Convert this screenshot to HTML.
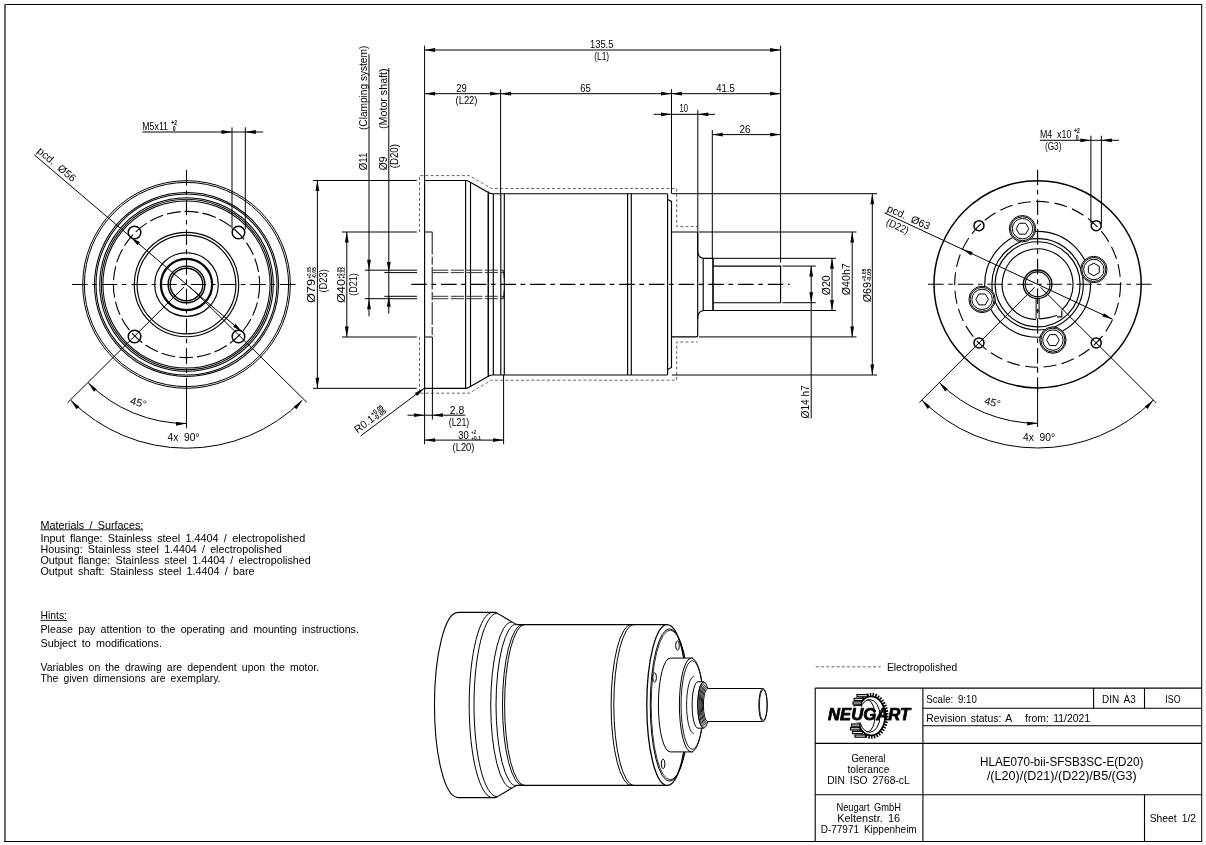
<!DOCTYPE html>
<html><head><meta charset="utf-8"><title>Drawing</title><style>html,body{margin:0;padding:0;background:#fff}svg{display:block;filter:grayscale(1)}</style></head><body>
<svg width="1206" height="845" viewBox="0 0 1206 845" font-family="'Liberation Sans', sans-serif" fill="#000">
<rect width="1206" height="845" fill="#fff"/>
<line x1="4.00" y1="4.50" x2="1202.20" y2="4.50" stroke="#000" stroke-width="1.0"/>
<line x1="5.00" y1="4.00" x2="5.00" y2="842.00" stroke="#6a6a6a" stroke-width="2.0"/>
<line x1="1201.65" y1="4.00" x2="1201.65" y2="842.00" stroke="#222" stroke-width="1.15"/>
<line x1="4.00" y1="841.50" x2="1202.20" y2="841.50" stroke="#000" stroke-width="1.0"/>
<circle cx="186.50" cy="284.50" r="103.80" fill="none" stroke="#000" stroke-width="1.0"/>
<circle cx="186.50" cy="284.50" r="102.10" fill="none" stroke="#000" stroke-width="1.0"/>
<circle cx="186.50" cy="284.50" r="92.00" fill="none" stroke="#000" stroke-width="1.05"/>
<circle cx="186.50" cy="284.50" r="90.50" fill="none" stroke="#000" stroke-width="1.05"/>
<circle cx="186.50" cy="284.50" r="86.80" fill="none" stroke="#000" stroke-width="1.05"/>
<circle cx="186.50" cy="284.50" r="85.20" fill="none" stroke="#000" stroke-width="1.05"/>
<circle cx="186.50" cy="284.50" r="83.60" fill="none" stroke="#000" stroke-width="1.05"/>
<circle cx="186.50" cy="284.50" r="73.10" fill="none" stroke="#000" stroke-width="1.1" stroke-dasharray="14 4"/>
<circle cx="186.50" cy="284.50" r="52.20" fill="none" stroke="#000" stroke-width="1.15"/>
<circle cx="186.50" cy="284.50" r="49.40" fill="none" stroke="#000" stroke-width="1.15"/>
<circle cx="186.50" cy="284.50" r="31.80" fill="none" stroke="#000" stroke-width="1.15"/>
<circle cx="186.50" cy="284.50" r="25.60" fill="none" stroke="#000" stroke-width="2.2"/>
<circle cx="186.50" cy="284.50" r="18.40" fill="none" stroke="#000" stroke-width="1.4"/>
<circle cx="186.50" cy="284.50" r="16.30" fill="none" stroke="#000" stroke-width="1.4"/>
<line x1="72.00" y1="284.50" x2="296.30" y2="284.50" stroke="#000" stroke-width="1.1" stroke-dasharray="15.6 4.6 4.6 4.9"/>
<line x1="186.50" y1="170.00" x2="186.50" y2="390.00" stroke="#000" stroke-width="1.1" stroke-dasharray="15.6 4.6 4.6 4.9"/>
<line x1="186.50" y1="383.00" x2="186.50" y2="428.30" stroke="#000" stroke-width="1.0"/>
<circle cx="134.53" cy="232.53" r="6.30" fill="none" stroke="#000" stroke-width="1.5"/>
<circle cx="238.47" cy="232.53" r="6.30" fill="none" stroke="#000" stroke-width="1.5"/>
<circle cx="134.53" cy="336.47" r="6.30" fill="none" stroke="#000" stroke-width="1.5"/>
<circle cx="238.47" cy="336.47" r="6.30" fill="none" stroke="#000" stroke-width="1.5"/>
<line x1="34.20" y1="154.74" x2="242.30" y2="332.04" stroke="#000" stroke-width="1.0"/>
<polygon points="130.70,236.96 139.93,242.33 137.47,245.22" fill="#000"/>
<polygon points="242.30,332.04 233.07,326.67 235.53,323.78" fill="#000"/>
<g transform="translate(36.6,152.0) rotate(40.4)"><text font-size="10.5" textLength="47" lengthAdjust="spacingAndGlyphs" xml:space="preserve">pcd.  Ø56</text></g>
<line x1="184.00" y1="287.00" x2="67.50" y2="402.80" stroke="#000" stroke-width="1.0"/>
<line x1="189.70" y1="286.70" x2="306.80" y2="402.30" stroke="#000" stroke-width="1.0"/>
<path d="M302.25,400.25 A163.7,163.7 0 0 1 70.75,400.25" fill="none" stroke="#000" stroke-width="1.0"/>
<path d="M186.50,423.50 A139,139 0 0 1 88.21,382.79" fill="none" stroke="#000" stroke-width="1.0"/>
<polygon points="70.75,400.25 79.30,406.64 76.52,409.23" fill="#000"/>
<polygon points="302.25,400.25 296.48,409.23 293.70,406.64" fill="#000"/>
<polygon points="88.21,382.79 96.76,389.17 93.98,391.76" fill="#000"/>
<polygon points="186.50,423.50 176.07,425.77 175.94,421.97" fill="#000"/>
<g transform="translate(137.5,406.0) rotate(15)"><text font-size="10.5" text-anchor="middle" textLength="16.5" lengthAdjust="spacingAndGlyphs">45°</text></g>
<text x="167.50" y="441.30" font-size="10.5" text-anchor="start" textLength="32.0" lengthAdjust="spacingAndGlyphs" xml:space="preserve">4x  90°</text>
<text x="142.30" y="130.40" font-size="11" text-anchor="start" textLength="25.7" lengthAdjust="spacingAndGlyphs" xml:space="preserve">M5x11</text>
<text x="171.30" y="125.00" font-size="6.5" text-anchor="start" font-weight="bold" textLength="5.6" lengthAdjust="spacingAndGlyphs" xml:space="preserve">+2</text>
<text x="172.80" y="131.20" font-size="6.5" text-anchor="start" font-weight="bold" textLength="2.9" lengthAdjust="spacingAndGlyphs" xml:space="preserve">0</text>
<line x1="142.50" y1="132.00" x2="263.20" y2="132.00" stroke="#000" stroke-width="1.0"/>
<line x1="232.00" y1="127.30" x2="232.00" y2="229.00" stroke="#000" stroke-width="1.0"/>
<line x1="245.30" y1="127.30" x2="245.30" y2="229.50" stroke="#000" stroke-width="1.0"/>
<polygon points="232.00,132.00 221.50,133.90 221.50,130.10" fill="#000"/>
<polygon points="245.30,132.00 255.80,130.10 255.80,133.90" fill="#000"/>
<path d="M424.6,180.5 L465.8,180.5 Q467.3,180.5 468.6,181.3 L488.8,192.79999999999998 Q490.3,193.7 492,193.7 L667.6,193.7" fill="none" stroke="#000" stroke-width="1.15"/>
<path d="M424.6,388.3 L465.8,388.3 Q467.3,388.3 468.6,387.5 L488.8,375.9 Q490.3,375.0 492,375.0 L667.6,375.0" fill="none" stroke="#000" stroke-width="1.15"/>
<line x1="424.60" y1="180.50" x2="424.60" y2="388.30" stroke="#000" stroke-width="1.15"/>
<line x1="465.60" y1="180.50" x2="465.60" y2="388.30" stroke="#000" stroke-width="1.15"/>
<line x1="470.50" y1="182.30" x2="470.50" y2="386.50" stroke="#000" stroke-width="1.15"/>
<line x1="488.30" y1="193.70" x2="488.30" y2="375.00" stroke="#000" stroke-width="1.15"/>
<line x1="493.30" y1="193.70" x2="493.30" y2="375.00" stroke="#000" stroke-width="1.15"/>
<line x1="500.80" y1="193.70" x2="500.80" y2="375.00" stroke="#000" stroke-width="1.15"/>
<line x1="504.30" y1="193.70" x2="504.30" y2="375.00" stroke="#000" stroke-width="1.15"/>
<line x1="488.30" y1="191.60" x2="488.30" y2="377.10" stroke="#000" stroke-width="1.15"/>
<line x1="627.60" y1="193.70" x2="627.60" y2="375.00" stroke="#000" stroke-width="1.15"/>
<line x1="631.30" y1="193.70" x2="631.30" y2="375.00" stroke="#000" stroke-width="1.15"/>
<line x1="667.60" y1="193.70" x2="667.60" y2="375.00" stroke="#000" stroke-width="1.15"/>
<path d="M667.6,199.4 L671.5,201.4 L671.5,367.4 L667.6,369.4" fill="none" stroke="#000" stroke-width="1.15"/>
<path d="M671.5,232.0 L696.4,232.0 Q697.7,232.0 697.7,233.3 L697.7,250.8 Q698,258.3 704.2,258.3 L713,258.3" fill="none" stroke="#000" stroke-width="1.15"/>
<path d="M671.5,336.9 L696.4,336.9 Q697.7,336.9 697.7,335.59999999999997 L697.7,318.0 Q698,310.5 704.2,310.5 L713,310.5" fill="none" stroke="#000" stroke-width="1.15"/>
<line x1="697.70" y1="250.00" x2="697.70" y2="319.00" stroke="#000" stroke-width="1.15"/>
<line x1="703.20" y1="258.30" x2="703.20" y2="310.50" stroke="#000" stroke-width="1.15"/>
<line x1="713.00" y1="258.30" x2="713.00" y2="310.50" stroke="#000" stroke-width="1.6"/>
<path d="M713,266.1 L780.6,266.1 L780.6,302.7 L713,302.7" fill="none" stroke="#000" stroke-width="1.15"/>
<line x1="411.30" y1="284.40" x2="789.50" y2="284.40" stroke="#000" stroke-width="1.1" stroke-dasharray="15.6 4.6 4.6 4.9"/>
<line x1="432.20" y1="232.00" x2="432.20" y2="337.00" stroke="#222" stroke-width="1.1" stroke-dasharray="22.5 2.3 8 2.3"/>
<line x1="424.60" y1="232.00" x2="432.40" y2="232.00" stroke="#000" stroke-width="1.0"/>
<line x1="424.60" y1="337.00" x2="432.40" y2="337.00" stroke="#000" stroke-width="1.0"/>
<line x1="432.40" y1="270.20" x2="503.60" y2="270.20" stroke="#333" stroke-width="1.0" stroke-dasharray="16 2.5 13 2.5"/>
<line x1="432.40" y1="272.60" x2="503.60" y2="272.60" stroke="#333" stroke-width="1.0" stroke-dasharray="16 2.5 13 2.5"/>
<line x1="432.40" y1="296.30" x2="503.60" y2="296.30" stroke="#333" stroke-width="1.0" stroke-dasharray="16 2.5 13 2.5"/>
<line x1="432.40" y1="298.70" x2="503.60" y2="298.70" stroke="#333" stroke-width="1.0" stroke-dasharray="16 2.5 13 2.5"/>
<path d="M502.6,270.2 Q504.4,272 504.2,278 M504.2,291 Q504.4,297 502.6,298.7" fill="none" stroke="#000" stroke-width="1.0"/>
<path d="M419.5,232 L419.5,175.6 L469.2,175.6 L491.5,188.5 L676.7,188.5 L676.7,226.6 L697.7,226.6" fill="none" stroke="#555" stroke-width="0.9" stroke-dasharray="3 2.2"/>
<path d="M419.5,337 L419.5,393.2 L469.2,393.2 L491.5,380.2 L676.7,380.2 L676.7,342.0 L697.7,342.0" fill="none" stroke="#555" stroke-width="0.9" stroke-dasharray="3 2.2"/>
<line x1="424.60" y1="45.60" x2="424.60" y2="180.50" stroke="#000" stroke-width="1.0"/>
<line x1="780.60" y1="45.60" x2="780.60" y2="262.60" stroke="#000" stroke-width="1.0"/>
<line x1="424.60" y1="50.00" x2="780.60" y2="50.00" stroke="#000" stroke-width="1.0"/>
<polygon points="424.60,50.00 435.10,48.10 435.10,51.90" fill="#000"/>
<polygon points="780.60,50.00 770.10,51.90 770.10,48.10" fill="#000"/>
<text x="601.70" y="48.20" font-size="10.5" text-anchor="middle" textLength="23.5" lengthAdjust="spacingAndGlyphs" xml:space="preserve">135.5</text>
<text x="601.70" y="60.20" font-size="10.5" text-anchor="middle" textLength="15.0" lengthAdjust="spacingAndGlyphs" xml:space="preserve">(L1)</text>
<line x1="424.60" y1="93.70" x2="780.60" y2="93.70" stroke="#000" stroke-width="1.0"/>
<line x1="500.60" y1="89.40" x2="500.60" y2="193.70" stroke="#000" stroke-width="1.0"/>
<line x1="671.50" y1="89.20" x2="671.50" y2="193.70" stroke="#000" stroke-width="1.0"/>
<polygon points="424.60,93.70 435.10,91.80 435.10,95.60" fill="#000"/>
<polygon points="500.60,93.70 490.10,95.60 490.10,91.80" fill="#000"/>
<polygon points="500.60,93.70 511.10,91.80 511.10,95.60" fill="#000"/>
<polygon points="671.50,93.70 661.00,95.60 661.00,91.80" fill="#000"/>
<polygon points="671.50,93.70 682.00,91.80 682.00,95.60" fill="#000"/>
<polygon points="780.60,93.70 770.10,95.60 770.10,91.80" fill="#000"/>
<text x="461.50" y="91.80" font-size="10.5" text-anchor="middle" textLength="10.5" lengthAdjust="spacingAndGlyphs" xml:space="preserve">29</text>
<text x="466.50" y="104.00" font-size="10.5" text-anchor="middle" textLength="22.0" lengthAdjust="spacingAndGlyphs" xml:space="preserve">(L22)</text>
<text x="585.50" y="91.80" font-size="10.5" text-anchor="middle" textLength="10.5" lengthAdjust="spacingAndGlyphs" xml:space="preserve">65</text>
<text x="725.50" y="91.80" font-size="10.5" text-anchor="middle" textLength="18.5" lengthAdjust="spacingAndGlyphs" xml:space="preserve">41.5</text>
<line x1="653.60" y1="114.30" x2="715.00" y2="114.30" stroke="#000" stroke-width="1.0"/>
<line x1="697.80" y1="109.80" x2="697.80" y2="250.00" stroke="#000" stroke-width="1.0"/>
<polygon points="671.50,114.30 661.00,116.20 661.00,112.40" fill="#000"/>
<polygon points="697.80,114.30 708.30,112.40 708.30,116.20" fill="#000"/>
<text x="683.70" y="112.30" font-size="10.5" text-anchor="middle" textLength="8.5" lengthAdjust="spacingAndGlyphs" xml:space="preserve">10</text>
<line x1="712.30" y1="134.60" x2="780.60" y2="134.60" stroke="#000" stroke-width="1.0"/>
<line x1="712.30" y1="130.00" x2="712.30" y2="258.30" stroke="#000" stroke-width="1.0"/>
<polygon points="712.30,134.60 722.80,132.70 722.80,136.50" fill="#000"/>
<polygon points="780.60,134.60 770.10,136.50 770.10,132.70" fill="#000"/>
<text x="745.00" y="132.80" font-size="10.5" text-anchor="middle" textLength="11.0" lengthAdjust="spacingAndGlyphs" xml:space="preserve">26</text>
<line x1="313.00" y1="180.50" x2="416.80" y2="180.50" stroke="#000" stroke-width="1.0"/>
<line x1="313.00" y1="388.30" x2="416.80" y2="388.30" stroke="#000" stroke-width="1.0"/>
<line x1="317.40" y1="180.50" x2="317.40" y2="388.30" stroke="#000" stroke-width="1.0"/>
<polygon points="317.40,180.50 319.30,191.00 315.50,191.00" fill="#000"/>
<polygon points="317.40,388.30 315.50,377.80 319.30,377.80" fill="#000"/>
<text transform="translate(315.40,303.00) rotate(-90)" font-size="10.5" text-anchor="start" textLength="24.0" lengthAdjust="spacingAndGlyphs" xml:space="preserve">Ø79</text>
<text transform="translate(311.20,278.60) rotate(-90)" font-size="6.2" text-anchor="start" font-weight="bold" textLength="11.5" lengthAdjust="spacingAndGlyphs" xml:space="preserve">+0.05</text>
<text transform="translate(315.60,278.60) rotate(-90)" font-size="6.2" text-anchor="start" font-weight="bold" textLength="11.5" lengthAdjust="spacingAndGlyphs" xml:space="preserve">-0.05</text>
<text transform="translate(326.70,292.60) rotate(-90)" font-size="10.5" text-anchor="start" textLength="23.5" lengthAdjust="spacingAndGlyphs" xml:space="preserve">(D23)</text>
<line x1="342.00" y1="232.00" x2="416.80" y2="232.00" stroke="#000" stroke-width="1.0"/>
<line x1="342.00" y1="337.00" x2="416.80" y2="337.00" stroke="#000" stroke-width="1.0"/>
<line x1="346.80" y1="232.00" x2="346.80" y2="337.00" stroke="#000" stroke-width="1.0"/>
<polygon points="346.80,232.00 348.70,242.50 344.90,242.50" fill="#000"/>
<polygon points="346.80,337.00 344.90,326.50 348.70,326.50" fill="#000"/>
<text transform="translate(344.90,303.00) rotate(-90)" font-size="10.5" text-anchor="start" textLength="24.0" lengthAdjust="spacingAndGlyphs" xml:space="preserve">Ø40</text>
<text transform="translate(340.70,278.60) rotate(-90)" font-size="6.2" text-anchor="start" font-weight="bold" textLength="11.5" lengthAdjust="spacingAndGlyphs" xml:space="preserve">+0.05</text>
<text transform="translate(345.10,278.60) rotate(-90)" font-size="6.2" text-anchor="start" font-weight="bold" textLength="11.5" lengthAdjust="spacingAndGlyphs" xml:space="preserve">+0.02</text>
<text transform="translate(356.60,295.80) rotate(-90)" font-size="10.5" text-anchor="start" textLength="22.5" lengthAdjust="spacingAndGlyphs" xml:space="preserve">(D21)</text>
<line x1="369.00" y1="54.20" x2="369.00" y2="316.30" stroke="#000" stroke-width="1.0"/>
<line x1="364.80" y1="270.20" x2="417.00" y2="270.20" stroke="#000" stroke-width="1.0"/>
<line x1="364.80" y1="298.70" x2="417.00" y2="298.70" stroke="#000" stroke-width="1.0"/>
<polygon points="369.00,270.20 367.10,259.70 370.90,259.70" fill="#000"/>
<polygon points="369.00,298.70 370.90,309.20 367.10,309.20" fill="#000"/>
<text transform="translate(366.60,170.20) rotate(-90)" font-size="10.5" text-anchor="start" textLength="17.5" lengthAdjust="spacingAndGlyphs" xml:space="preserve">Ø11</text>
<text transform="translate(366.60,130.00) rotate(-90)" font-size="10.5" text-anchor="start" textLength="84.3" lengthAdjust="spacingAndGlyphs" xml:space="preserve">(Clamping system)</text>
<line x1="388.80" y1="68.00" x2="388.80" y2="313.60" stroke="#000" stroke-width="1.0"/>
<line x1="384.30" y1="272.60" x2="417.00" y2="272.60" stroke="#000" stroke-width="1.0"/>
<line x1="384.30" y1="296.30" x2="417.00" y2="296.30" stroke="#000" stroke-width="1.0"/>
<polygon points="388.80,272.60 386.90,262.10 390.70,262.10" fill="#000"/>
<polygon points="388.80,296.30 390.70,306.80 386.90,306.80" fill="#000"/>
<text transform="translate(386.60,170.20) rotate(-90)" font-size="10.5" text-anchor="start" textLength="13.8" lengthAdjust="spacingAndGlyphs" xml:space="preserve">Ø9</text>
<text transform="translate(386.60,129.00) rotate(-90)" font-size="10.5" text-anchor="start" textLength="60.6" lengthAdjust="spacingAndGlyphs" xml:space="preserve">(Motor shaft)</text>
<text transform="translate(398.40,168.30) rotate(-90)" font-size="10.5" text-anchor="start" textLength="24.3" lengthAdjust="spacingAndGlyphs" xml:space="preserve">(D20)</text>
<line x1="424.60" y1="388.30" x2="424.60" y2="444.20" stroke="#000" stroke-width="1.0"/>
<line x1="432.40" y1="337.00" x2="432.40" y2="419.50" stroke="#000" stroke-width="1.0"/>
<line x1="503.60" y1="375.00" x2="503.60" y2="444.20" stroke="#000" stroke-width="1.0"/>
<line x1="407.50" y1="415.20" x2="465.30" y2="415.20" stroke="#000" stroke-width="1.0"/>
<polygon points="424.60,415.20 414.10,417.10 414.10,413.30" fill="#000"/>
<polygon points="432.40,415.20 442.90,413.30 442.90,417.10" fill="#000"/>
<text x="457.00" y="413.60" font-size="10.5" text-anchor="middle" textLength="14.5" lengthAdjust="spacingAndGlyphs" xml:space="preserve">2.8</text>
<text x="459.00" y="425.50" font-size="10.5" text-anchor="middle" textLength="20.5" lengthAdjust="spacingAndGlyphs" xml:space="preserve">(L21)</text>
<line x1="424.60" y1="440.10" x2="503.60" y2="440.10" stroke="#000" stroke-width="1.0"/>
<polygon points="424.60,440.10 435.10,438.20 435.10,442.00" fill="#000"/>
<polygon points="503.60,440.10 493.10,442.00 493.10,438.20" fill="#000"/>
<text x="463.50" y="438.60" font-size="10.5" text-anchor="middle" textLength="10.5" lengthAdjust="spacingAndGlyphs" xml:space="preserve">30</text>
<text x="471.20" y="433.80" font-size="6.2" text-anchor="start" font-weight="bold" textLength="4.8" lengthAdjust="spacingAndGlyphs" xml:space="preserve">+2</text>
<text x="471.20" y="439.60" font-size="6.2" text-anchor="start" font-weight="bold" textLength="9.8" lengthAdjust="spacingAndGlyphs" xml:space="preserve">+0.1</text>
<text x="463.50" y="450.60" font-size="10.5" text-anchor="middle" textLength="22.0" lengthAdjust="spacingAndGlyphs" xml:space="preserve">(L20)</text>
<line x1="424.40" y1="388.20" x2="360.70" y2="435.90" stroke="#000" stroke-width="1.0"/>
<polygon points="424.40,388.20 417.13,396.01 414.85,392.97" fill="#000"/>
<g transform="translate(357.5,433.5) rotate(-36.8)"><text font-size="10.5" textLength="22" lengthAdjust="spacingAndGlyphs">R0.1</text><text x="22.3" y="-4.6" font-size="6.8" font-weight="bold" textLength="14" lengthAdjust="spacingAndGlyphs">+0.05</text><text x="22.3" y="0.6" font-size="6.8" font-weight="bold" textLength="14" lengthAdjust="spacingAndGlyphs">-0.05</text></g>
<line x1="671.80" y1="193.70" x2="877.00" y2="193.70" stroke="#000" stroke-width="1.0"/>
<line x1="671.80" y1="375.00" x2="877.00" y2="375.00" stroke="#000" stroke-width="1.0"/>
<line x1="872.30" y1="193.70" x2="872.30" y2="375.00" stroke="#000" stroke-width="1.0"/>
<polygon points="872.30,193.70 874.20,204.20 870.40,204.20" fill="#000"/>
<polygon points="872.30,375.00 870.40,364.50 874.20,364.50" fill="#000"/>
<text transform="translate(870.60,302.30) rotate(-90)" font-size="10.5" text-anchor="start" textLength="20.3" lengthAdjust="spacingAndGlyphs" xml:space="preserve">Ø69</text>
<text transform="translate(866.40,281.60) rotate(-90)" font-size="6.2" text-anchor="start" font-weight="bold" textLength="13.0" lengthAdjust="spacingAndGlyphs" xml:space="preserve">+0.05</text>
<text transform="translate(870.80,281.60) rotate(-90)" font-size="6.2" text-anchor="start" font-weight="bold" textLength="13.0" lengthAdjust="spacingAndGlyphs" xml:space="preserve">-0.05</text>
<line x1="699.00" y1="232.00" x2="856.50" y2="232.00" stroke="#000" stroke-width="1.0"/>
<line x1="699.00" y1="336.90" x2="856.50" y2="336.90" stroke="#000" stroke-width="1.0"/>
<line x1="852.20" y1="232.00" x2="852.20" y2="336.90" stroke="#000" stroke-width="1.0"/>
<polygon points="852.20,232.00 854.10,242.50 850.30,242.50" fill="#000"/>
<polygon points="852.20,336.90 850.30,326.40 854.10,326.40" fill="#000"/>
<text transform="translate(850.40,295.20) rotate(-90)" font-size="10.5" text-anchor="start" textLength="32.0" lengthAdjust="spacingAndGlyphs" xml:space="preserve">Ø40h7</text>
<line x1="713.00" y1="258.30" x2="836.00" y2="258.30" stroke="#000" stroke-width="1.0"/>
<line x1="713.00" y1="310.50" x2="836.00" y2="310.50" stroke="#000" stroke-width="1.0"/>
<line x1="832.00" y1="258.30" x2="832.00" y2="310.50" stroke="#000" stroke-width="1.0"/>
<polygon points="832.00,258.30 833.90,268.80 830.10,268.80" fill="#000"/>
<polygon points="832.00,310.50 830.10,300.00 833.90,300.00" fill="#000"/>
<text transform="translate(829.80,295.20) rotate(-90)" font-size="10.5" text-anchor="start" textLength="19.7" lengthAdjust="spacingAndGlyphs" xml:space="preserve">Ø20</text>
<line x1="782.40" y1="266.10" x2="815.80" y2="266.10" stroke="#000" stroke-width="1.0"/>
<line x1="782.40" y1="302.70" x2="815.80" y2="302.70" stroke="#000" stroke-width="1.0"/>
<line x1="811.20" y1="266.10" x2="811.20" y2="418.40" stroke="#000" stroke-width="1.0"/>
<polygon points="811.20,266.10 813.10,276.60 809.30,276.60" fill="#000"/>
<polygon points="811.20,302.70 809.30,292.20 813.10,292.20" fill="#000"/>
<text transform="translate(809.40,418.40) rotate(-90)" font-size="10.5" text-anchor="start" textLength="33.2" lengthAdjust="spacingAndGlyphs" xml:space="preserve">Ø14 h7</text>
<circle cx="1037.60" cy="284.30" r="103.60" fill="none" stroke="#000" stroke-width="1.5"/>
<circle cx="1037.60" cy="284.30" r="82.90" fill="none" stroke="#000" stroke-width="1.1" stroke-dasharray="13 5.5"/>
<circle cx="1037.60" cy="284.30" r="52.90" fill="none" stroke="#000" stroke-width="1.15"/>
<circle cx="1037.60" cy="284.30" r="45.70" fill="none" stroke="#000" stroke-width="1.15"/>
<circle cx="1037.60" cy="284.30" r="42.50" fill="none" stroke="#000" stroke-width="1.15"/>
<path d="M1036.00,319.66 A35.4,35.4 0 1 1 1061.74,310.19" fill="none" stroke="#000" stroke-width="1.15"/>
<path d="M1039.20,318.90 Q1049.60,318.30 1057.10,315.30" fill="none" stroke="#000" stroke-width="1.15"/>
<path d="M1057.10,316.80 L1061.80,316.80 L1061.80,310.80" fill="none" stroke="#000" stroke-width="1.15"/>
<line x1="1036.10" y1="297.80" x2="1036.10" y2="318.90" stroke="#000" stroke-width="1.0"/>
<line x1="1039.10" y1="297.80" x2="1039.10" y2="318.90" stroke="#000" stroke-width="1.0"/>
<line x1="1036.10" y1="310.80" x2="1039.10" y2="310.80" stroke="#000" stroke-width="1.0"/>
<circle cx="1037.60" cy="284.30" r="14.30" fill="none" stroke="#000" stroke-width="1.3"/>
<circle cx="1037.60" cy="284.30" r="12.40" fill="none" stroke="#000" stroke-width="1.1"/>
<line x1="928.00" y1="284.30" x2="1153.00" y2="284.30" stroke="#000" stroke-width="1.1" stroke-dasharray="15.6 4.6 4.6 4.9"/>
<line x1="1037.60" y1="169.70" x2="1037.60" y2="392.00" stroke="#000" stroke-width="1.1" stroke-dasharray="15.6 4.6 4.6 4.9"/>
<line x1="1037.60" y1="386.00" x2="1037.60" y2="427.00" stroke="#000" stroke-width="1.0"/>
<circle cx="1022.50" cy="228.70" r="13.20" fill="#fff" stroke="#000" stroke-width="1.0"/>
<circle cx="1022.50" cy="228.70" r="12.00" fill="none" stroke="#000" stroke-width="1.0"/>
<circle cx="1022.50" cy="228.70" r="10.20" fill="none" stroke="#000" stroke-width="1.0"/>
<polygon points="1028.80,228.70 1025.65,234.16 1019.35,234.16 1016.20,228.70 1019.35,223.24 1025.65,223.24" fill="none" stroke="#000" stroke-width="1.0"/>
<circle cx="1093.80" cy="269.50" r="13.20" fill="#fff" stroke="#000" stroke-width="1.0"/>
<circle cx="1093.80" cy="269.50" r="12.00" fill="none" stroke="#000" stroke-width="1.0"/>
<circle cx="1093.80" cy="269.50" r="10.20" fill="none" stroke="#000" stroke-width="1.0"/>
<polygon points="1099.26,272.65 1093.80,275.80 1088.34,272.65 1088.34,266.35 1093.80,263.20 1099.26,266.35" fill="none" stroke="#000" stroke-width="1.0"/>
<circle cx="982.10" cy="299.40" r="13.20" fill="#fff" stroke="#000" stroke-width="1.0"/>
<circle cx="982.10" cy="299.40" r="12.00" fill="none" stroke="#000" stroke-width="1.0"/>
<circle cx="982.10" cy="299.40" r="10.20" fill="none" stroke="#000" stroke-width="1.0"/>
<polygon points="988.40,299.40 985.25,304.86 978.95,304.86 975.80,299.40 978.95,293.94 985.25,293.94" fill="none" stroke="#000" stroke-width="1.0"/>
<circle cx="1052.90" cy="340.10" r="13.20" fill="#fff" stroke="#000" stroke-width="1.0"/>
<circle cx="1052.90" cy="340.10" r="12.00" fill="none" stroke="#000" stroke-width="1.0"/>
<circle cx="1052.90" cy="340.10" r="10.20" fill="none" stroke="#000" stroke-width="1.0"/>
<polygon points="1059.20,340.10 1056.05,345.56 1049.75,345.56 1046.60,340.10 1049.75,334.64 1056.05,334.64" fill="none" stroke="#000" stroke-width="1.0"/>
<circle cx="978.98" cy="225.68" r="5.00" fill="none" stroke="#000" stroke-width="1.5"/>
<circle cx="1096.22" cy="225.68" r="5.00" fill="none" stroke="#000" stroke-width="1.5"/>
<circle cx="978.98" cy="342.92" r="5.00" fill="none" stroke="#000" stroke-width="1.5"/>
<circle cx="1096.22" cy="342.92" r="5.00" fill="none" stroke="#000" stroke-width="1.5"/>
<line x1="1034.60" y1="287.30" x2="919.30" y2="402.60" stroke="#000" stroke-width="1.0"/>
<line x1="1040.60" y1="287.30" x2="1156.20" y2="402.90" stroke="#000" stroke-width="1.0"/>
<path d="M1153.35,400.05 A163.7,163.7 0 0 1 921.85,400.05" fill="none" stroke="#000" stroke-width="1.0"/>
<path d="M1037.60,423.30 A139,139 0 0 1 939.31,382.59" fill="none" stroke="#000" stroke-width="1.0"/>
<polygon points="921.85,400.05 930.40,406.44 927.62,409.03" fill="#000"/>
<polygon points="1153.35,400.05 1147.58,409.03 1144.80,406.44" fill="#000"/>
<polygon points="939.31,382.59 947.86,388.97 945.08,391.56" fill="#000"/>
<polygon points="1037.60,423.30 1027.17,425.57 1027.04,421.77" fill="#000"/>
<g transform="translate(991.6,405.8) rotate(15)"><text font-size="10.5" text-anchor="middle" textLength="16.5" lengthAdjust="spacingAndGlyphs">45°</text></g>
<text x="1023.00" y="441.30" font-size="10.5" text-anchor="start" textLength="32.0" lengthAdjust="spacingAndGlyphs" xml:space="preserve">4x  90°</text>
<line x1="884.50" y1="212.91" x2="1112.73" y2="319.34" stroke="#000" stroke-width="1.0"/>
<polygon points="962.47,249.26 972.79,251.98 971.18,255.42" fill="#000"/>
<polygon points="1112.73,319.34 1102.41,316.62 1104.02,313.18" fill="#000"/>
<g transform="translate(886.3,210.9) rotate(24.6)"><text font-size="10.5" textLength="46" lengthAdjust="spacingAndGlyphs" xml:space="preserve">pcd.  Ø63</text><text x="5" y="12.8" font-size="10.5" textLength="23.5" lengthAdjust="spacingAndGlyphs">(D22)</text></g>
<text x="1039.90" y="138.40" font-size="10.5" text-anchor="start" textLength="31.5" lengthAdjust="spacingAndGlyphs" xml:space="preserve">M4  x10</text>
<text x="1074.20" y="133.40" font-size="6.5" text-anchor="start" font-weight="bold" textLength="5.6" lengthAdjust="spacingAndGlyphs" xml:space="preserve">+2</text>
<text x="1075.80" y="139.50" font-size="6.5" text-anchor="start" font-weight="bold" textLength="2.9" lengthAdjust="spacingAndGlyphs" xml:space="preserve">0</text>
<text x="1044.90" y="150.40" font-size="10.5" text-anchor="start" textLength="16.5" lengthAdjust="spacingAndGlyphs" xml:space="preserve">(G3)</text>
<line x1="1039.90" y1="140.30" x2="1119.10" y2="140.30" stroke="#000" stroke-width="1.0"/>
<line x1="1090.90" y1="135.70" x2="1090.90" y2="223.00" stroke="#000" stroke-width="1.0"/>
<line x1="1101.40" y1="135.70" x2="1101.40" y2="224.00" stroke="#000" stroke-width="1.0"/>
<polygon points="1090.90,140.30 1080.40,142.20 1080.40,138.40" fill="#000"/>
<polygon points="1101.40,140.30 1111.90,138.40 1111.90,142.20" fill="#000"/>
<text x="40.50" y="528.80" font-size="10.5" text-anchor="start" word-spacing="2.2" textLength="102.8" lengthAdjust="spacingAndGlyphs" xml:space="preserve">Materials / Surfaces:</text>
<line x1="40.50" y1="529.80" x2="143.30" y2="529.80" stroke="#000" stroke-width="0.9"/>
<text x="40.50" y="542.00" font-size="10.5" text-anchor="start" word-spacing="2.2" textLength="264.7" lengthAdjust="spacingAndGlyphs" xml:space="preserve">Input flange: Stainless steel 1.4404 / electropolished</text>
<text x="40.50" y="553.00" font-size="10.5" text-anchor="start" word-spacing="2.2" textLength="241.5" lengthAdjust="spacingAndGlyphs" xml:space="preserve">Housing: Stainless steel 1.4404 / electropolished</text>
<text x="40.50" y="564.00" font-size="10.5" text-anchor="start" word-spacing="2.2" textLength="270.3" lengthAdjust="spacingAndGlyphs" xml:space="preserve">Output flange: Stainless steel 1.4404 / electropolished</text>
<text x="40.50" y="575.00" font-size="10.5" text-anchor="start" word-spacing="2.2" textLength="214.0" lengthAdjust="spacingAndGlyphs" xml:space="preserve">Output shaft: Stainless steel 1.4404 / bare</text>
<text x="40.50" y="619.40" font-size="10.5" text-anchor="start" word-spacing="2.2" textLength="26.5" lengthAdjust="spacingAndGlyphs" xml:space="preserve">Hints:</text>
<line x1="40.50" y1="620.40" x2="67.00" y2="620.40" stroke="#000" stroke-width="0.9"/>
<text x="40.50" y="632.70" font-size="10.5" text-anchor="start" word-spacing="2.2" textLength="318.4" lengthAdjust="spacingAndGlyphs" xml:space="preserve">Please pay attention to the operating and mounting instructions.</text>
<text x="40.50" y="646.60" font-size="10.5" text-anchor="start" word-spacing="2.2" textLength="121.4" lengthAdjust="spacingAndGlyphs" xml:space="preserve">Subject to modifications.</text>
<text x="40.50" y="670.80" font-size="10.5" text-anchor="start" word-spacing="2.2" textLength="278.6" lengthAdjust="spacingAndGlyphs" xml:space="preserve">Variables on the drawing are dependent upon the motor.</text>
<text x="40.50" y="681.80" font-size="10.5" text-anchor="start" word-spacing="2.2" textLength="180.0" lengthAdjust="spacingAndGlyphs" xml:space="preserve">The given dimensions are exemplary.</text>
<line x1="815.80" y1="666.80" x2="880.80" y2="666.80" stroke="#555" stroke-width="0.9" stroke-dasharray="3 2.2"/>
<text x="886.90" y="670.90" font-size="10.5" text-anchor="start" textLength="70.3" lengthAdjust="spacingAndGlyphs" xml:space="preserve">Electropolished</text>
<line x1="815.20" y1="688.10" x2="1201.60" y2="688.10" stroke="#000" stroke-width="1.1"/>
<line x1="815.20" y1="688.10" x2="815.20" y2="841.50" stroke="#000" stroke-width="1.1"/>
<line x1="922.90" y1="688.10" x2="922.90" y2="841.50" stroke="#000" stroke-width="1.1"/>
<line x1="922.90" y1="708.20" x2="1201.60" y2="708.20" stroke="#000" stroke-width="1.1"/>
<line x1="922.90" y1="725.80" x2="1201.60" y2="725.80" stroke="#000" stroke-width="1.1"/>
<line x1="815.20" y1="743.40" x2="1201.60" y2="743.40" stroke="#000" stroke-width="1.1"/>
<line x1="815.20" y1="794.70" x2="1201.60" y2="794.70" stroke="#000" stroke-width="1.1"/>
<line x1="1093.60" y1="688.10" x2="1093.60" y2="708.20" stroke="#000" stroke-width="1.1"/>
<line x1="1144.50" y1="688.10" x2="1144.50" y2="708.20" stroke="#000" stroke-width="1.1"/>
<line x1="1144.50" y1="794.70" x2="1144.50" y2="841.50" stroke="#000" stroke-width="1.1"/>
<text x="926.30" y="702.90" font-size="10.5" text-anchor="start" word-spacing="2.2" textLength="50.5" lengthAdjust="spacingAndGlyphs" xml:space="preserve">Scale: 9:10</text>
<text x="1102.00" y="702.90" font-size="10.5" text-anchor="start" word-spacing="2.2" textLength="33.7" lengthAdjust="spacingAndGlyphs" xml:space="preserve">DIN A3</text>
<text x="1165.30" y="702.90" font-size="10.5" text-anchor="start" textLength="15.2" lengthAdjust="spacingAndGlyphs" xml:space="preserve">ISO</text>
<text x="926.30" y="721.70" font-size="10.5" text-anchor="start" word-spacing="1.6" textLength="163.9" lengthAdjust="spacingAndGlyphs" xml:space="preserve">Revision status: A   from: 11/2021</text>
<text x="868.40" y="761.80" font-size="10.5" text-anchor="middle" textLength="34.0" lengthAdjust="spacingAndGlyphs" xml:space="preserve">General</text>
<text x="868.40" y="773.00" font-size="10.5" text-anchor="middle" textLength="42.0" lengthAdjust="spacingAndGlyphs" xml:space="preserve">tolerance</text>
<text x="868.40" y="783.80" font-size="10.5" text-anchor="middle" word-spacing="2.2" textLength="82.5" lengthAdjust="spacingAndGlyphs" xml:space="preserve">DIN ISO 2768-cL</text>
<text x="1061.70" y="766.20" font-size="12" text-anchor="middle" textLength="163.3" lengthAdjust="spacingAndGlyphs" xml:space="preserve">HLAE070-bii-SFSB3SC-E(D20)</text>
<text x="1061.80" y="780.10" font-size="12" text-anchor="middle" textLength="149.8" lengthAdjust="spacingAndGlyphs" xml:space="preserve">/(L20)/(D21)/(D22)/B5/(G3)</text>
<text x="868.70" y="811.00" font-size="10.5" text-anchor="middle" word-spacing="2.2" textLength="64.5" lengthAdjust="spacingAndGlyphs" xml:space="preserve">Neugart GmbH</text>
<text x="868.70" y="821.60" font-size="10.5" text-anchor="middle" word-spacing="2.2" textLength="63.0" lengthAdjust="spacingAndGlyphs" xml:space="preserve">Keltenstr. 16</text>
<text x="868.70" y="832.50" font-size="10.5" text-anchor="middle" word-spacing="2.2" textLength="96.0" lengthAdjust="spacingAndGlyphs" xml:space="preserve">D-77971 Kippenheim</text>
<text x="1149.70" y="821.70" font-size="10.5" text-anchor="start" word-spacing="2.2" textLength="46.3" lengthAdjust="spacingAndGlyphs" xml:space="preserve">Sheet 1/2</text>
<path d="M458.00,612.40 A23.52,92.60 0 0 0 458.00,797.60" fill="none" stroke="#000" stroke-width="1.1"/>
<line x1="458.00" y1="612.40" x2="495.80" y2="612.40" stroke="#000" stroke-width="1.1"/>
<line x1="458.00" y1="797.60" x2="495.80" y2="797.60" stroke="#000" stroke-width="1.1"/>
<path d="M492.70,612.40 A23.52,92.60 0 0 0 492.70,797.60" fill="none" stroke="#000" stroke-width="1.0"/>
<path d="M497.30,613.20 A23.32,91.80 0 0 0 497.30,796.80" fill="none" stroke="#000" stroke-width="1.0"/>
<line x1="495.80" y1="612.40" x2="515.70" y2="624.10" stroke="#000" stroke-width="1.1"/>
<line x1="495.80" y1="797.60" x2="515.70" y2="785.90" stroke="#000" stroke-width="1.1"/>
<path d="M511.80,622.00 A21.08,83.00 0 0 0 511.80,788.00" fill="none" stroke="#000" stroke-width="1.0"/>
<path d="M516.60,624.00 A20.57,81.00 0 0 0 516.60,786.00" fill="none" stroke="#000" stroke-width="1.0"/>
<path d="M522.90,624.60 A20.42,80.40 0 0 0 522.90,785.40" fill="none" stroke="#000" stroke-width="1.0"/>
<path d="M525.00,624.60 A20.42,80.40 0 0 0 525.00,785.40" fill="none" stroke="#000" stroke-width="1.0"/>
<line x1="515.70" y1="624.60" x2="667.40" y2="624.60" stroke="#000" stroke-width="1.1"/>
<line x1="515.70" y1="785.40" x2="667.40" y2="785.40" stroke="#000" stroke-width="1.1"/>
<path d="M631.50,624.60 A20.42,80.40 0 0 0 631.50,785.40" fill="none" stroke="#000" stroke-width="1.0"/>
<path d="M634.20,624.60 A20.42,80.40 0 0 0 634.20,785.40" fill="none" stroke="#000" stroke-width="1.0"/>
<ellipse cx="667.20" cy="705.00" rx="20.42" ry="80.40" fill="#fff" stroke="#000" stroke-width="1.3"/>
<ellipse cx="669.60" cy="705.00" rx="19.35" ry="76.20" fill="none" stroke="#000" stroke-width="1.0"/>
<ellipse cx="670.20" cy="705.00" rx="19.00" ry="74.80" fill="none" stroke="#000" stroke-width="0.8"/>
<ellipse cx="677.5" cy="645.5" rx="1.8" ry="4.7" fill="#fff" stroke="#000" stroke-width="1.0"/>
<ellipse cx="654.6" cy="677.4" rx="1.8" ry="4.7" fill="#fff" stroke="#000" stroke-width="1.0"/>
<ellipse cx="663.1" cy="763.9" rx="1.8" ry="4.7" fill="#fff" stroke="#000" stroke-width="1.0"/>
<path d="M693.0,658.10 L670.3,658.10 A11.91,46.90 0 0 0 670.3,751.90 L693.0,751.90" fill="#fff" stroke="#000" stroke-width="1.0"/>
<ellipse cx="691.30" cy="705.00" rx="11.91" ry="46.90" fill="#fff" stroke="#000" stroke-width="1.0"/>
<ellipse cx="692.30" cy="705.00" rx="11.25" ry="44.30" fill="none" stroke="#000" stroke-width="0.9"/>
<path d="M693.80,676.60 A7.21,28.40 0 0 0 693.80,733.40" fill="none" stroke="#000" stroke-width="0.9"/>
<path d="M703.6,681.80 L698.0,681.80 A5.89,23.20 0 0 0 698.0,728.20 L703.6,728.20" fill="#fff" stroke="#000" stroke-width="1.0"/>
<ellipse cx="703.60" cy="705.00" rx="5.89" ry="23.20" fill="#fff" stroke="#000" stroke-width="1.0"/>
<path d="M703.64,682.40 A5.74,22.60 0 0 0 703.64,727.60" fill="none" stroke="#000" stroke-width="0.9"/>
<path d="M704.44,683.60 A5.44,21.40 0 0 0 704.44,726.40" fill="none" stroke="#000" stroke-width="0.9"/>
<path d="M705.23,684.80 A5.13,20.20 0 0 0 705.23,725.20" fill="none" stroke="#000" stroke-width="0.9"/>
<path d="M706.03,686.00 A4.83,19.00 0 0 0 706.03,724.00" fill="none" stroke="#000" stroke-width="0.9"/>
<path d="M706.85,687.10 A4.55,17.90 0 0 0 706.85,722.90" fill="none" stroke="#000" stroke-width="0.9"/>
<path d="M707.6,688.50 L763,688.50 L763,721.50 L707.6,721.50 A4.19,16.50 0 0 1 707.6,688.50Z" fill="#fff" stroke="#000" stroke-width="1.0"/>
<ellipse cx="763.00" cy="705.00" rx="4.19" ry="16.50" fill="#fff" stroke="#000" stroke-width="1.0"/>
<ellipse cx="763.30" cy="705.00" rx="3.89" ry="15.30" fill="none" stroke="#000" stroke-width="0.8"/>
<g>
<ellipse cx="871.2" cy="715.9" rx="15.6" ry="21.2" fill="none" stroke="#000" stroke-width="3.4" stroke-dasharray="1.5 1.25"/>
<ellipse cx="871.2" cy="715.9" rx="13.9" ry="19.5" fill="#fff" stroke="#000" stroke-width="1.7"/>
<ellipse cx="869.6" cy="715.9" rx="10.4" ry="16.4" fill="none" stroke="#000" stroke-width="1.0"/>
<path d="M867.7,699.6999999999999 A8.2,16.3 0 0 1 867.7,732.1" fill="none" stroke="#000" stroke-width="1.0"/>
<rect x="851" y="696.2" width="8.5" height="11" fill="#fff"/>
<rect x="849" y="722.5" width="9.5" height="14.5" fill="#fff"/>
<rect x="857.0" y="694.6" width="10.5" height="2.2" fill="#fff" stroke="#000" stroke-width="1.2"/>
<rect x="854.2" y="698.3" width="8.8" height="2.2" fill="#fff" stroke="#000" stroke-width="1.2"/>
<rect x="853.0" y="701.9" width="8.6" height="2.2" fill="#fff" stroke="#000" stroke-width="1.2"/>
<rect x="854.0" y="705.3" width="7.5" height="2.2" fill="#fff" stroke="#000" stroke-width="1.2"/>
<rect x="851.5" y="724.0" width="8.5" height="2.2" fill="#fff" stroke="#000" stroke-width="1.2"/>
<rect x="850.5" y="727.7" width="9.5" height="2.2" fill="#fff" stroke="#000" stroke-width="1.2"/>
<rect x="852.5" y="731.4" width="10" height="2.2" fill="#fff" stroke="#000" stroke-width="1.2"/>
<rect x="855.0" y="735.0" width="10.5" height="2.2" fill="#fff" stroke="#000" stroke-width="1.2"/>
<rect x="826" y="706.6" width="40.5" height="15.6" fill="#fff"/>
<text x="869.1" y="720.4" font-size="16.4" font-weight="bold" font-style="italic" text-anchor="middle" textLength="82" lengthAdjust="spacingAndGlyphs" stroke="#000" stroke-width="0.75" paint-order="stroke" stroke-linejoin="round">NEUGART</text>
</g>
</svg>
</body></html>
